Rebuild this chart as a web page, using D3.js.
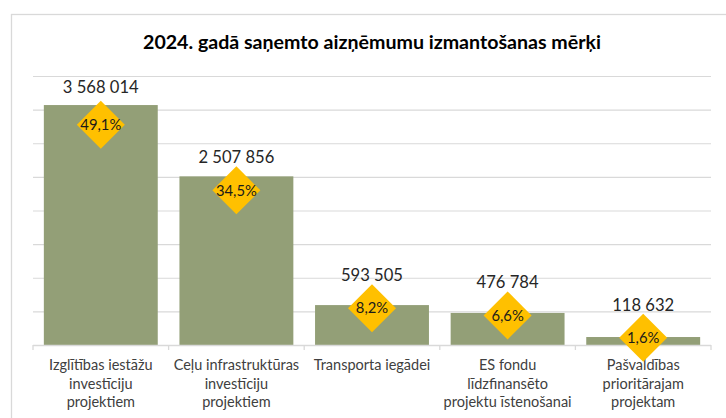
<!DOCTYPE html>
<html><head><meta charset="utf-8">
<script src="https://cdn.jsdelivr.net/npm/d3@7"></script>
<style>
html,body{margin:0;padding:0;background:#fff;}
svg{display:block;font-family:Lato,"Open Sans",sans-serif;}
</style></head>
<body>
<svg id="chart" width="726" height="418"></svg>
<script>
const title = "2024. gadā saņemto aizņēmumu izmantošanas mērķi";
const categories = [
  ["Izglītības iestāžu","investīciju","projektiem"],
  ["Ceļu infrastruktūras","investīciju","projektiem"],
  ["Transporta iegādei"],
  ["ES fondu","līdzfinansēto","projektu īstenošanai"],
  ["Pašvaldības","prioritārajam","projektam"]
];
const values = [3568014, 2507856, 593505, 476784, 118632];
const shares = [49.1, 34.5, 8.2, 6.6, 1.6];
const yMax = 4000000;
const yStep = 500000;
const shareMax = 60;

const svg = d3.select("#chart");
const W = 726, H = 418;
const m = {left:33, right:15, top:76, bottom:73};
const pw = W - m.left - m.right, ph = H - m.top - m.bottom;

// chart frame
svg.append("rect").attr("x",11.5).attr("y",14.5).attr("width",W+20).attr("height",H+20)
  .attr("fill","#fff").attr("stroke","#d9d9d9").attr("stroke-width",1.3);

svg.append("text").attr("x",372).attr("y",48.5).attr("text-anchor","middle")
  .attr("font-size",19.6).attr("font-weight","bold").attr("fill","#000").text(title);

const g = svg.append("g").attr("transform",`translate(${m.left},${m.top})`);
const x = d3.scaleBand().domain(d3.range(values.length)).range([0,pw]).paddingInner(0.16).paddingOuter(0.08);
const y = d3.scaleLinear().domain([0,yMax]).range([ph,0]);
const y2 = d3.scaleLinear().domain([0,shareMax]).range([ph,0]);

const grid = g.append("g").call(d3.axisLeft(y).tickValues(d3.range(yStep, yMax+1, yStep)).tickSize(-pw).tickFormat(""));
grid.select(".domain").remove();
grid.selectAll("line").attr("stroke","#d9d9d9").attr("stroke-width",1.2);

g.selectAll(".bar").data(values).join("rect")
  .attr("x",(d,i)=>x(i)).attr("width",x.bandwidth())
  .attr("y",d=>y(d)).attr("height",d=>ph-y(d)).attr("fill","#939F77");

// x axis with boundary ticks
const step = pw / values.length;
g.append("line").attr("x1",0).attr("x2",pw).attr("y1",ph+0.5).attr("y2",ph+0.5).attr("stroke","#d9d9d9").attr("stroke-width",1.3);
g.selectAll(".tk").data(d3.range(values.length+1)).join("line")
  .attr("x1",d=>d*step).attr("x2",d=>d*step).attr("y1",ph).attr("y2",ph+5)
  .attr("stroke","#d9d9d9").attr("stroke-width",1.3);

const cat = g.selectAll(".cat").data(categories).join("text")
  .attr("text-anchor","middle").attr("font-size",14.5).attr("fill","#404040")
  .attr("transform",(d,i)=>`translate(${x(i)+x.bandwidth()/2},${ph+25})`);
cat.selectAll("tspan").data(d=>d).join("tspan").attr("x",0).attr("dy",(d,j)=>j?18.5:0).text(d=>d);

const fmt = d3.formatLocale({decimal:",", thousands:"\u00a0", grouping:[3], currency:["",""]});
const fNum = fmt.format(",d");
const fPct = fmt.format(",.1f");
const half = 24;

// diamonds
const dg = g.selectAll(".dia").data(shares).join("g")
  .attr("transform",(d,i)=>`translate(${x(i)+x.bandwidth()/2},${y2(d)})`);
dg.append("path").attr("d",`M0,${-half}L${half},0L0,${half}L${-half},0Z`).attr("fill","#FFC000");
dg.append("text").attr("text-anchor","middle").attr("dy","0.35em").attr("font-size",14.8).attr("fill","#1a1a1a")
  .text(d=>fPct(d)+"%");

// value labels
g.selectAll(".val").data(values).join("text")
  .attr("x",(d,i)=>x(i)+x.bandwidth()/2)
  .attr("y",(d,i)=>Math.min(y(d)-18, y2(shares[i])-half-9))
  .attr("dy","0.35em").attr("text-anchor","middle").attr("font-size",16.6).attr("fill","#262626")
  .text(d=>fNum(d));
</script>
</body></html>
